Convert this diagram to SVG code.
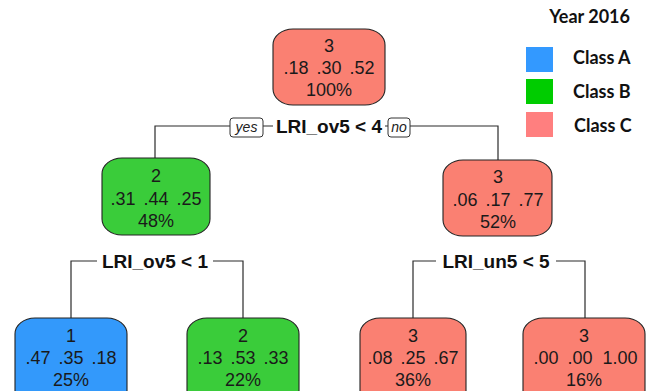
<svg xmlns="http://www.w3.org/2000/svg" width="656" height="391" viewBox="0 0 656 391">
  <style>
    .node rect { stroke: #222; stroke-width: 1.1; }
    .cA { fill: #3399fb; }
    .cB { fill: #3acc3a; }
    .cC { fill: #fa8072; }
    .nt { font-family: "Liberation Sans", Arial, sans-serif; font-size: 18px; fill: #1a1a1a; text-anchor: middle; }
    .split { font-family: "Liberation Sans", Arial, sans-serif; font-size: 19px; font-weight: bold; fill: #111; text-anchor: middle; }
    .yn { font-family: "Liberation Sans", Arial, sans-serif; font-size: 14px; font-style: italic; fill: #222; text-anchor: middle; }
    .ynbox { fill: #fff; stroke: #333; stroke-width: 1; }
    .edge { fill: none; stroke: #2b2b2b; stroke-width: 1.2; }
    .leg { font-family: "Lato", "Liberation Sans", sans-serif; font-size: 18px; font-weight: bold; fill: #111; }
  </style>

  <!-- connectors -->
  <g id="connectors">
    <path class="edge" d="M155,158 V126 H230 M263,126 H273 M385,126 H388 M410,126 H498 V160"/>
    <path class="edge" d="M71,318 V261 H97 M213,261 H243 V318"/>
    <path class="edge" d="M413,318 V261 H436 M556,261 H585 V318"/>
  </g>

  <!-- split labels -->
  <g id="split-root">
    <rect class="ynbox" x="230" y="118" width="33" height="19" rx="3"/>
    <text class="yn" x="246.5" y="132">yes</text>
    <text class="split" x="329" y="133">LRI_ov5 &lt; 4</text>
    <rect class="ynbox" x="388" y="118" width="22" height="19" rx="3"/>
    <text class="yn" x="399" y="132">no</text>
  </g>
  <g id="split-left">
    <text class="split" x="155" y="268">LRI_ov5 &lt; 1</text>
  </g>
  <g id="split-right">
    <text class="split" x="496" y="268">LRI_un5 &lt; 5</text>
  </g>

  <!-- nodes -->
  <g id="node-root" class="node">
    <rect class="cC" x="273" y="29" width="112" height="76" rx="20" ry="16"/>
    <text class="nt" x="329" y="52">3</text>
    <text class="nt" x="296" y="74">.18</text>
    <text class="nt" x="329" y="74">.30</text>
    <text class="nt" x="362" y="74">.52</text>
    <text class="nt" x="329" y="96">100%</text>
  </g>

  <g id="node-left" class="node">
    <rect class="cB" x="102" y="158" width="108" height="77" rx="20" ry="16"/>
    <text class="nt" x="156" y="182">2</text>
    <text class="nt" x="123" y="205">.31</text>
    <text class="nt" x="156" y="205">.44</text>
    <text class="nt" x="189" y="205">.25</text>
    <text class="nt" x="156" y="227">48%</text>
  </g>

  <g id="node-right" class="node">
    <rect class="cC" x="443" y="160" width="109" height="76" rx="20" ry="16"/>
    <text class="nt" x="498" y="183">3</text>
    <text class="nt" x="465" y="206">.06</text>
    <text class="nt" x="498" y="206">.17</text>
    <text class="nt" x="531" y="206">.77</text>
    <text class="nt" x="498" y="228">52%</text>
  </g>

  <g id="node-ll" class="node">
    <rect class="cA" x="15" y="318" width="112" height="90" rx="20" ry="16"/>
    <text class="nt" x="71" y="342">1</text>
    <text class="nt" x="38" y="364">.47</text>
    <text class="nt" x="71" y="364">.35</text>
    <text class="nt" x="104" y="364">.18</text>
    <text class="nt" x="71" y="386">25%</text>
  </g>

  <g id="node-lr" class="node">
    <rect class="cB" x="187" y="318" width="112" height="90" rx="20" ry="16"/>
    <text class="nt" x="243" y="342">2</text>
    <text class="nt" x="210" y="364">.13</text>
    <text class="nt" x="243" y="364">.53</text>
    <text class="nt" x="276" y="364">.33</text>
    <text class="nt" x="243" y="386">22%</text>
  </g>

  <g id="node-rl" class="node">
    <rect class="cC" x="360" y="318" width="106" height="90" rx="20" ry="16"/>
    <text class="nt" x="413" y="342">3</text>
    <text class="nt" x="380" y="364">.08</text>
    <text class="nt" x="413" y="364">.25</text>
    <text class="nt" x="446" y="364">.67</text>
    <text class="nt" x="413" y="386">36%</text>
  </g>

  <g id="node-rr" class="node">
    <rect class="cC" x="523" y="318" width="122" height="90" rx="20" ry="16"/>
    <text class="nt" x="584" y="342">3</text>
    <text class="nt" x="546" y="364">.00</text>
    <text class="nt" x="580" y="364">.00</text>
    <text class="nt" x="620" y="364">1.00</text>
    <text class="nt" x="584" y="386">16%</text>
  </g>

  <!-- legend -->
  <g id="legend">
    <text class="leg" x="630" y="23" text-anchor="end">Year 2016</text>
    <rect x="526" y="47" width="27" height="25" fill="#3399ff"/>
    <rect x="526" y="79" width="27" height="25" fill="#00cc00"/>
    <rect x="526" y="112" width="27" height="25" fill="#ff7f7f"/>
    <text class="leg" x="573" y="64">Class A</text>
    <text class="leg" x="573" y="98">Class B</text>
    <text class="leg" x="574" y="132">Class C</text>
  </g>
</svg>
